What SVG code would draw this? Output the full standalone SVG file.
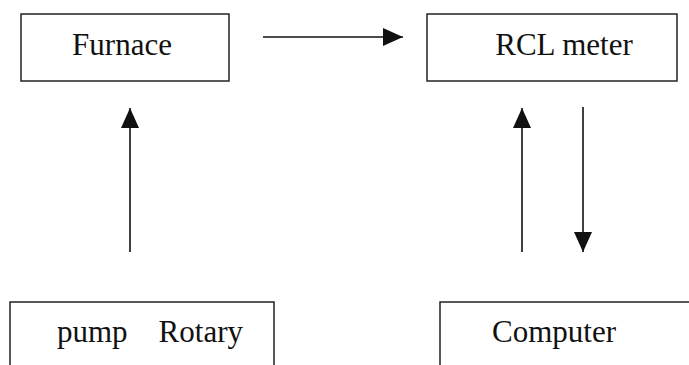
<svg xmlns="http://www.w3.org/2000/svg" width="689" height="365" viewBox="0 0 689 365">
<style>
.box{fill:#fff;stroke:#222;stroke-width:1.5}
.lbl{font-family:"Liberation Serif","Times New Roman",serif;font-size:31px;fill:#111;text-anchor:middle}
.conn{stroke:#111;stroke-width:1.6;fill:none}
</style>
<defs>
<marker id="ah" markerUnits="userSpaceOnUse" markerWidth="20" markerHeight="20" viewBox="0 0 20 20" refX="20" refY="10" orient="auto">
<path d="M0,1 L20,10 L0,19 Z" fill="#111"/>
</marker>
</defs>
<rect width="689" height="365" fill="#fff"/>
<g id="furnace">
<rect class="box" x="21" y="14" width="208" height="67"/>
<text class="lbl" x="122" y="55">Furnace</text>
</g>
<g id="rcl">
<rect class="box" x="427" y="14" width="250" height="67"/>
<text class="lbl" x="564" y="55">RCL meter</text>
</g>
<g id="pump">
<rect class="box" x="10" y="302" width="264" height="80"/>
<text class="lbl" x="150" y="342" xml:space="preserve">pump    Rotary</text>
</g>
<g id="computer">
<rect class="box" x="440" y="302" width="270" height="80"/>
<text class="lbl" x="554" y="342">Computer</text>
</g>
<g id="connectors">
<line class="conn" x1="263" y1="37" x2="403" y2="37" marker-end="url(#ah)"/>
<line class="conn" x1="130" y1="252" x2="130" y2="108" marker-end="url(#ah)"/>
<line class="conn" x1="522" y1="252" x2="522" y2="108" marker-end="url(#ah)"/>
<line class="conn" x1="583" y1="107" x2="583" y2="252" marker-end="url(#ah)"/>
</g>
</svg>
